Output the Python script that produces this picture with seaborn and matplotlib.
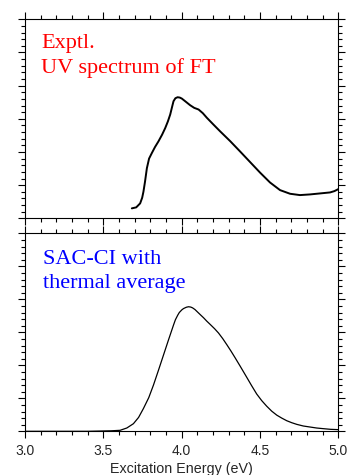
import numpy as np
import matplotlib
matplotlib.use("Agg")
import matplotlib.pyplot as plt
import seaborn as sns
from matplotlib.ticker import MultipleLocator, FormatStrFormatter

# experimental UV spectrum (arbitrary units)
expt_energy = [3.682, 3.710, 3.735, 3.748, 3.756, 3.766, 3.778, 3.792, 3.810,
               3.830, 3.852, 3.875, 3.895, 3.912, 3.927, 3.940, 3.948, 3.960,
               3.974, 3.988, 4.001, 4.025, 4.054, 4.080, 4.108, 4.135, 4.161,
               4.200, 4.246, 4.309, 4.372, 4.436, 4.500, 4.564, 4.628, 4.692,
               4.755, 4.819, 4.883, 4.947, 4.975, 5.000]
expt_int = [0.30, 0.33, 0.45, 0.62, 0.80, 1.10, 1.51, 1.80, 1.97,
            2.15, 2.32, 2.52, 2.72, 2.92, 3.13, 3.38, 3.53, 3.62,
            3.65, 3.64, 3.61, 3.52, 3.41, 3.33, 3.28, 3.17, 3.03,
            2.84, 2.62, 2.33, 2.02, 1.70, 1.38, 1.08, 0.85, 0.74,
            0.70, 0.72, 0.75, 0.78, 0.82, 0.88]

# SAC-CI spectrum with thermal average
calc_energy = [3.000, 3.200, 3.400, 3.500, 3.550, 3.607, 3.650, 3.692, 3.725,
               3.756, 3.790, 3.820, 3.852, 3.884, 3.916, 3.948, 3.960, 3.975,
               3.985, 4.001, 4.012, 4.030, 4.044, 4.058, 4.070, 4.085, 4.097,
               4.120, 4.140, 4.160, 4.182, 4.210, 4.235, 4.262, 4.289, 4.315,
               4.341, 4.374, 4.415, 4.447, 4.479, 4.511, 4.543, 4.575, 4.607,
               4.639, 4.671, 4.703, 4.735, 4.777, 4.819, 4.861, 4.904, 4.950,
               5.000]
calc_int = [0.00, 0.00, 0.00, 0.01, 0.015, 0.03, 0.10, 0.23, 0.42,
            0.69, 1.02, 1.40, 1.85, 2.31, 2.77, 3.22, 3.38, 3.52,
            3.60, 3.68, 3.72, 3.76, 3.775, 3.765, 3.74, 3.69, 3.635,
            3.53, 3.44, 3.34, 3.24, 3.11, 2.98, 2.81, 2.62, 2.43,
            2.23, 1.97, 1.64, 1.38, 1.13, 0.93, 0.76, 0.61, 0.49,
            0.40, 0.32, 0.26, 0.21, 0.16, 0.13, 0.10, 0.08, 0.06,
            0.05]

sns.set_style("ticks")
plt.rcParams['font.family'] = ['Liberation Sans', 'DejaVu Sans']

fig = plt.figure(figsize=(3.47, 4.75), dpi=100)
ax1 = fig.add_axes([0.072, 0.5404, 0.903, 0.419])
ax2 = fig.add_axes([0.072, 0.092, 0.903, 0.4168])

sns.lineplot(x=expt_energy, y=expt_int, ax=ax1, color='black', lw=1.4)
sns.lineplot(x=calc_energy, y=calc_int, ax=ax2, color='black', lw=0.9)

for ax in (ax1, ax2):
    ax.set_xlim(3.0, 5.0)
    ax.set_ylim(0, 6)
    ax.xaxis.set_major_locator(MultipleLocator(0.5))
    ax.xaxis.set_minor_locator(MultipleLocator(0.1))
    ax.yaxis.set_major_locator(MultipleLocator(1))
    ax.yaxis.set_minor_locator(MultipleLocator(0.2))
    ax.tick_params(which='both', direction='out', top=True, right=True,
                   labelleft=False, width=0.8, color='black')
    ax.tick_params(which='major', length=5)
    ax.tick_params(which='minor', length=3)
    for s in ax.spines.values():
        s.set_visible(True)
        s.set_linewidth(0.8)
        s.set_color('black')

ax1.tick_params(labelbottom=False)
ax2.xaxis.set_major_formatter(FormatStrFormatter('%.1f'))
ax2.tick_params(axis='x', labelsize=10, pad=4)
ax2.set_xlabel('Excitation Energy (eV)', fontsize=10.3, labelpad=3)

ax1.text(0.051, 0.854, 'Exptl.', transform=ax1.transAxes, color='red',
         family='Liberation Serif', fontsize=16, va='baseline')
ax1.text(0.051, 0.732, 'UV spectrum of FT', transform=ax1.transAxes, color='red',
         family='Liberation Serif', fontsize=16, va='baseline')
ax2.text(0.058, 0.845, 'SAC-CI with', transform=ax2.transAxes, color='blue',
         family='Liberation Serif', fontsize=16, va='baseline')
ax2.text(0.058, 0.722, 'thermal average', transform=ax2.transAxes, color='blue',
         family='Liberation Serif', fontsize=16, va='baseline')

fig.savefig('out.png', dpi=100)
